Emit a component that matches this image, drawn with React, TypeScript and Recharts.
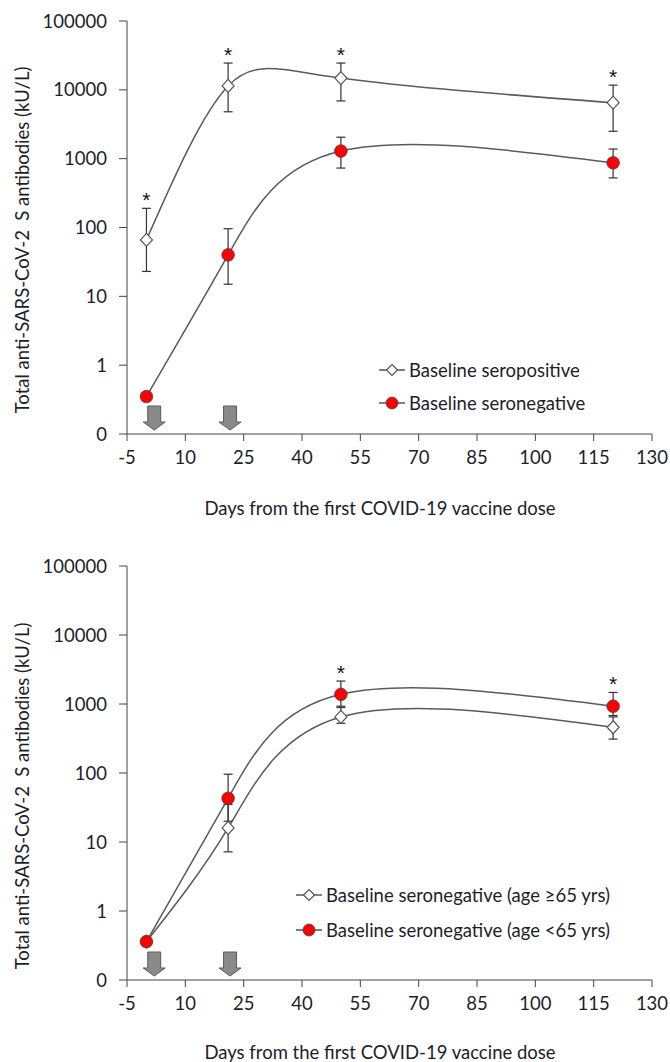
import { ComposedChart, Line, Scatter, XAxis, YAxis, ErrorBar, Legend, Label } from 'recharts';

// days of sampling
const days = [0, 21, 50, 120];

// panel A
const seroposMean = [66, 11400, 14800, 6500];
const seroposLow = [23, 4800, 6900, 2500];
const seroposHigh = [190, 24500, 24500, 11700];
const seronegMean = [0.35, 40, 1290, 870];
const seronegLow = [0.35, 15, 730, 525];
const seronegHigh = [0.35, 96, 2050, 1380];
const starsA = [0, 21, 50, 120]; // significant days (above seropositive)

// panel B
const oldMean = [0.36, 16, 650, 460];
const oldLow = [0.36, 7.2, 525, 310];
const oldHigh = [0.36, 35, 890, 650];
const youngMean = [0.36, 43, 1380, 930];
const youngLow = [0.36, 20, 930, 680];
const youngHigh = [0.36, 96, 2150, 1470];
const starsB = [50, 120]; // significant days (above <65 yrs)

const doseDays = [2, 21.5];
const xTicks = [-5, 10, 25, 40, 55, 70, 85, 100, 115, 130];
const yTicks = [0.1, 1, 10, 100, 1000, 10000, 100000];

const FONT = 'Lato, "Open Sans", sans-serif';
const TXT = '#1e1e28';
const AX = '#444';

const build = (mean: number[], low: number[], high: number[]) =>
  days.map((d, i) => ({ x: d, y: mean[i], err: [mean[i] - low[i], high[i] - mean[i]] }));

const starData = (sig: number[], high: number[]) =>
  sig.map((d) => ({ x: d, y: high[days.indexOf(d)] }));

const Diamond = (p: any) => {
  const { cx, cy } = p;
  if (cx == null || cy == null) return <g />;
  return (
    <path
      d={`M${cx},${cy - 6.5}L${cx + 6},${cy}L${cx},${cy + 6.5}L${cx - 6},${cy}Z`}
      fill="#fff"
      stroke="#555"
      strokeWidth={1.2}
    />
  );
};

const RedDot = (p: any) => {
  const { cx, cy } = p;
  if (cx == null || cy == null) return <g />;
  return <circle cx={cx} cy={cy} r={6.3} fill="#ff0000" stroke="#444" strokeWidth={0.8} />;
};

const Star = (p: any) => (
  <text
    x={p.cx}
    y={p.cy - 1}
    textAnchor="middle"
    fontSize={21}
    fontFamily='"Liberation Sans", Arial, sans-serif'
    fill="#111"
  >
    *
  </text>
);

const Arrow = (p: any) => {
  const { cx, cy } = p;
  const t = cy - 28;
  const h = cy - 12;
  const b = cy - 4;
  return (
    <path
      d={`M${cx - 6.5},${t}L${cx + 6.5},${t}L${cx + 6.5},${h}L${cx + 11},${h}L${cx},${b}L${cx - 11},${h}L${cx - 6.5},${h}Z`}
      fill="#8a8a8a"
      stroke="#5a5a5a"
      strokeWidth={1}
    />
  );
};

const legendMarker = (kind: 'diamond' | 'circle') => (
  <svg width={26} height={16} style={{ display: 'block' }}>
    <line x1={0} y1={8} x2={26} y2={8} stroke="#555" strokeWidth={1.5} />
    {kind === 'diamond' ? (
      <path d="M13,2.5L18.5,8L13,13.5L7.5,8Z" fill="#fff" stroke="#555" strokeWidth={1.2} />
    ) : (
      <circle cx={13} cy={8} r={6} fill="#ff0000" stroke="#444" strokeWidth={0.8} />
    )}
  </svg>
);

const makeLegend = (items: { label: string; kind: 'diamond' | 'circle' }[], gap: number) => () => (
  <div style={{ fontFamily: FONT, fontSize: 18.5, color: TXT }}>
    {items.map((it, i) => (
      <div key={i} style={{ display: 'flex', alignItems: 'center', height: 20, marginBottom: i === 0 ? gap : 0 }}>
        {legendMarker(it.kind)}
        <span style={{ marginLeft: 4, whiteSpace: 'nowrap' }}>{it.label}</span>
      </div>
    ))}
  </div>
);

type PanelProps = {
  top: number;
  marginTop: number;
  marginBottom: number;
  a: ReturnType<typeof build>;
  b: ReturnType<typeof build>;
  stars: { x: number; y: number }[];
  legend: { label: string; kind: 'diamond' | 'circle' }[];
  legendLeft: number;
  legendTop: number;
  legendGap: number;
  yTitleY: number;
  xTitleY: number;
};

function Panel(p: PanelProps) {
  const tick = { fontFamily: FONT, fontSize: 18.5, fill: TXT };
  return (
    <div style={{ position: 'absolute', left: 0, top: p.top }}>
      <ComposedChart
        width={670}
        height={531}
        margin={{ top: p.marginTop, right: 18, bottom: p.marginBottom, left: 0 }}
      >
        <XAxis
          dataKey="x"
          type="number"
          domain={[-5, 130]}
          ticks={xTicks}
          interval={0}
          height={50}
          tickSize={7}
          tickMargin={10}
          stroke={AX}
          tick={tick}
          axisLine={{ stroke: AX }}
          tickLine={{ stroke: AX }}
        >
          <Label
            content={() => (
              <text x={380} y={p.xTitleY} textAnchor="middle" dominantBaseline="central" fontFamily={FONT} fontSize={18.5} fill={TXT}>
                Days from the first COVID-19 vaccine dose
              </text>
            )}
          />
        </XAxis>
        <YAxis
          type="number"
          scale="log"
          domain={[0.1, 100000]}
          ticks={yTicks}
          interval={0}
          width={127}
          tickSize={8}
          tickMargin={12}
          tickFormatter={(v: number) => (v < 1 ? '0' : String(v))}
          stroke={AX}
          tick={tick}
        >
          <Label
            content={() => (
              <text
                x={22}
                y={p.yTitleY}
                transform={`rotate(-90, 22, ${p.yTitleY})`}
                textAnchor="middle"
                dominantBaseline="central"
                fontFamily={FONT}
                fontSize={18.5}
                fill={TXT}
              >
                Total anti-SARS-CoV-2{'\u00a0\u00a0'}S antibodies (kU/L)
              </text>
            )}
          />
        </YAxis>
        <Legend
          layout="vertical"
          align="center"
          verticalAlign="middle"
          content={makeLegend(p.legend, p.legendGap)}
          wrapperStyle={{ left: p.legendLeft, top: p.legendTop, width: 'auto', height: 'auto' }}
        />
        <Scatter data={doseDays.map((d) => ({ x: d, y: 0.1 }))} dataKey="y" shape={Arrow} isAnimationActive={false} legendType="none" />
        <Line
          data={p.a}
          dataKey="y"
          type="natural"
          stroke="#5a5a5a"
          strokeWidth={1.5}
          dot={Diamond}
          activeDot={false}
          isAnimationActive={false}
        >
          <ErrorBar dataKey="err" width={4.5} stroke="#333" strokeWidth={1.2} direction="y" />
        </Line>
        <Line
          data={p.b}
          dataKey="y"
          type="natural"
          stroke="#5a5a5a"
          strokeWidth={1.5}
          dot={RedDot}
          activeDot={false}
          isAnimationActive={false}
        >
          <ErrorBar dataKey="err" width={4.5} stroke="#333" strokeWidth={1.2} direction="y" />
        </Line>
        <Scatter data={p.stars} dataKey="y" shape={Star} isAnimationActive={false} legendType="none" />
      </ComposedChart>
    </div>
  );
}

export default function App() {
  const seropos = build(seroposMean, seroposLow, seroposHigh);
  const seroneg = build(seronegMean, seronegLow, seronegHigh);
  const old = build(oldMean, oldLow, oldHigh);
  const young = build(youngMean, youngLow, youngHigh);

  return (
    <div style={{ position: 'absolute', left: 0, top: 0, width: 670, height: 1062, background: '#fff' }}>
      <Panel
        top={0}
        marginTop={21}
        marginBottom={47}
        a={seropos}
        b={seroneg}
        stars={starData(starsA, seroposHigh)}
        legend={[
          { label: 'Baseline seropositive', kind: 'diamond' },
          { label: 'Baseline seronegative', kind: 'circle' },
        ]}
        legendLeft={379}
        legendTop={360}
        legendGap={13}
        yTitleY={240}
        xTitleY={508}
      />
      <Panel
        top={531}
        marginTop={35}
        marginBottom={32}
        a={old}
        b={young}
        stars={starData(starsB, youngHigh)}
        legend={[
          { label: 'Baseline seronegative (age \u226565 yrs)', kind: 'diamond' },
          { label: 'Baseline seronegative (age <65 yrs)', kind: 'circle' },
        ]}
        legendLeft={296}
        legendTop={354}
        legendGap={15}
        yTitleY={265}
        xTitleY={521}
      />
    </div>
  );
}
